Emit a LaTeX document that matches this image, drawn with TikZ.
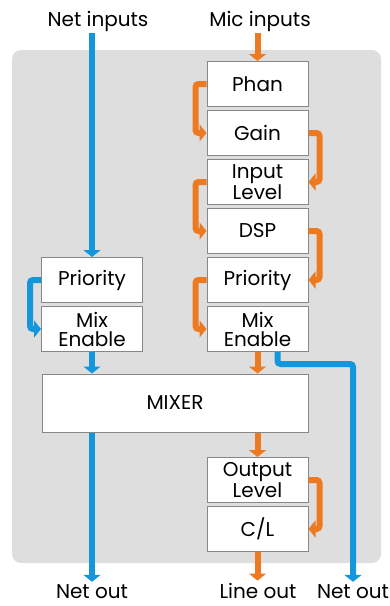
\documentclass[tikz,border=0pt]{standalone}
\usepackage{fontspec}
\setmainfont{Poppins}
\usepackage{xcolor}
\usepackage{tikz}
\usetikzlibrary{arrows.meta}

\definecolor{panelgray}{RGB}{222,222,222}
\definecolor{boxline}{RGB}{135,135,135}
\definecolor{micorange}{RGB}{237,121,33}
\definecolor{netblue}{RGB}{20,150,220}

\begin{document}
\begin{tikzpicture}[x=1pt, y=-1pt, node distance=49pt, font=\fontsize{20}{19}\selectfont]
                \tikzstyle{block} = [rectangle, minimum width=101pt, minimum height=45pt, text centered, align=center, inner sep=0pt, draw=boxline, line width=1pt, fill=white]
                \tikzstyle{iolabel} = [inner sep=2pt]
                \tikzstyle{orangearrow} = [line width=6pt, draw=micorange, rounded corners=3pt, -{Triangle[length=7pt, width=17pt]}]
                \tikzstyle{bluearrow} = [line width=6pt, draw=netblue, rounded corners=3pt, -{Triangle[length=7pt, width=17pt]}]

                \useasboundingbox (0,0) rectangle (390,606);
                \fill [panelgray, rounded corners=9pt] (12,50) rectangle (381,563);

                \node (netin) [iolabel, anchor=base] at (98,26) {Net inputs};
                \node (micin) [iolabel, anchor=base] at (260,26) {Mic inputs};

                \node (phan) [block] at (257.5,84) {Phan};
                \node (gain) [block, below of=phan] {Gain};
                \node (inlvl) [block, below of=gain] {Input\\Level};
                \node (dsp) [block, below of=inlvl] {DSP};
                \node (prioR) [block, below of=dsp] {Priority};
                \node (mixR) [block, below of=prioR] {Mix\\Enable};

                \node (prioL) [block] at (92,280) {Priority};
                \node (mixL) [block, below of=prioL] {Mix\\Enable};

                \node (mixer) [block, minimum width=266pt, minimum height=58pt] at (175,403) {MIXER};
                \node (outlvl) [block] at (257.5,480) {Output\\Level};
                \node (cl) [block, below of=outlvl] {C/L};

                \node (netoutL) [iolabel, anchor=base] at (92,598) {Net out};
                \node (lineout) [iolabel, anchor=base] at (258,598) {Line out};
                \node (netoutR) [iolabel, anchor=base] at (353,598) {Net out};

                \draw [bluearrow] (netin.south -| prioL.north) -- (prioL.north);
                \draw [orangearrow] (micin.south -| phan.north) -- (phan.north);
                \draw [orangearrow] (phan.west) -- ++(-11,0) |- (gain.west);
                \draw [orangearrow] (gain.east) -- ++(11,0) |- (inlvl.east);
                \draw [orangearrow] (inlvl.west) -- ++(-11,0) |- (dsp.west);
                \draw [orangearrow] (dsp.east) -- ++(11,0) |- (prioR.east);
                \draw [orangearrow] (prioR.west) -- ++(-11,0) |- (mixR.west);
                \draw [bluearrow] (prioL.west) -- ++(-11,0) |- (mixL.west);
                \draw [bluearrow] (mixL.south) -- (mixL.south |- mixer.north);
                \draw [orangearrow] (mixR.south) -- (mixR.south |- mixer.north);
                \draw [bluearrow] ([xshift=20pt]mixR.south) -- ++(0,12) -| (netoutR.north);
                \draw [bluearrow] (mixL.south |- mixer.south) -- (netoutL.north);
                \draw [orangearrow] (mixR.south |- mixer.south) -- (outlvl.north);
                \draw [orangearrow] (outlvl.east) -- ++(11,0) |- (cl.east);
                \draw [orangearrow] (cl.south) -- (cl.south |- lineout.north);
            \end{tikzpicture}
\end{document}
